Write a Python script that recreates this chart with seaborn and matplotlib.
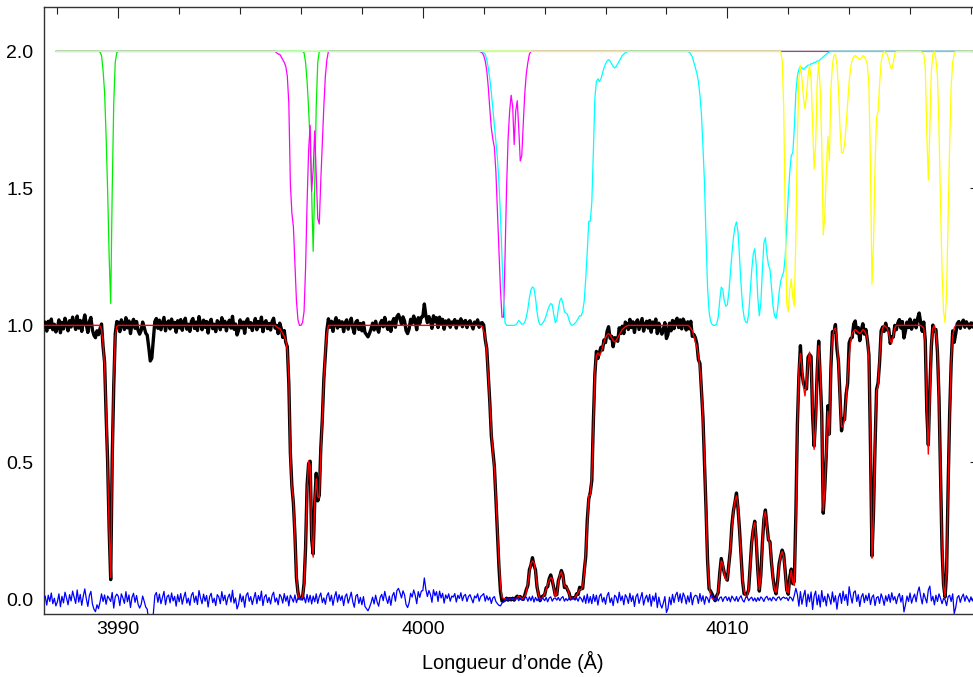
import numpy as np
import matplotlib
matplotlib.use("Agg")
import matplotlib.pyplot as plt
import seaborn as sns
from matplotlib.ticker import MultipleLocator

# ---------------- data ----------------
wave_start = 3987.55      # Angstrom, first sample
wave_step = 0.05          # Angstrom
comp_start = 3987.94      # component curves start here

# residuals (observed - model), in hundredths of flux
resid_hundredths = [
    0.6, 1.2, -2.1, 1.5, -0.8, 2.3, -1.6, 0.4, -2.4,
    -0.9, 2.0, -2.7, 1.1, -1.3, 2.6, 0.5, -2.0, 1.7, -0.6, 3.0, 0.8, -1.5, 3.4, -1.0, 1.8, -2.2, 1.2, 3.8, 0.2,
    -2.6, 1.4, 2.9, -1.7, -3.6, -4.5, -2.0, -3.4, -1.0, 2.0, -0.8, 1.6, -1.8, 1.2, 0.3, -0.8, 2.5, -3.2, 0.9, 1.9,
    1.1, -2.3, 2.0, 0.5, -1.5, 2.8, -0.9, 1.6, -3.0, 0.7, 2.2, -1.1, 1.4, -1.8, -3.2, -1.9, 1.2, -0.7, -2.8, -3.6,
    -8.0, -13.0, -12.0, -5.5, 1.4, 2.5, -1.1, 1.9, -1.6, 0.6, 2.9, -2.0, 0.9, 1.6, -1.3, 2.3, -0.6, 1.1, -2.5, 1.7,
    -0.9, 2.1, -1.8, 0.7, 2.6, -1.4, 0.4, -2.2, 1.5, 2.5, -1.1, 1.2, -1.9, 3.2, 0.5, -1.6, 1.9, -0.7, 1.4, -2.8,
    1.0, 2.2, -1.2, 0.4, -2.3, 1.7, 0.9, -1.6, 2.8, -0.5, 1.5, -2.0, 0.7, 1.9, -1.0, 3.3, -1.4, 0.5, -3.5, -1.8,
    2.0, -0.9, 1.2, -2.9, 1.5, 2.4, -0.7, 1.0, -1.9, 0.4, 2.5, -1.6, 1.4, -0.5, 3.0, -2.3, 0.9, 1.7, -1.2, 0.7,
    -1.7, 1.4, 2.6, -1.0, 0.5, -2.0, 1.8, 0.9, -1.4, 2.1, -0.7, 1.2, -2.4, 1.5, 0.4, -1.0, 1.6, -1.2, 0.5, 0.3,
    0.2, -0.3, 0.8, -1.3, 1.8, -1.0, 1.5, -1.7, 1.2, -0.9, 2.0, -1.5, 1.0, 2.3, -1.2, 0.5, -1.8, 1.3, 2.4, -0.7,
    1.5, -2.2, 0.9, 2.8, -1.0, 1.7, -0.4, 1.3, -2.3, 1.0, 2.0, -1.4, 0.5, 2.6, -0.9, -2.9, 1.2, 1.8, -1.5, 0.7,
    -2.0, 1.0, -2.6, -3.4, -4.2, -2.9, -1.3, 0.8, -1.7, 1.5, -1.0, -2.5, 0.7, 1.8, -0.5, 2.9, 0.3, -1.5, 1.2, -2.2,
    1.3, 2.5, -0.7, 3.2, 4.0, 2.4, 0.5, 3.1, 1.6, -1.9, -3.0, -1.3, 2.2, 0.8, 3.4, 1.5, -1.6, 2.8, 0.7, 3.0,
    3.2, 7.8, 3.6, 1.0, 3.2, 1.8, -1.1, 3.5, 1.3, 2.8, -0.8, 3.0, 0.5, 2.2, -1.4, 1.6, 0.3, 2.0, -0.7, 1.2,
    0.8, 2.1, -1.0, 1.5, 0.3, 2.4, -0.5, 1.3, 1.8, -0.8, 1.0, 1.7, 0.2, -1.3, 1.2, 0.5, 2.0, -0.7, 1.0, 1.5,
    2.1, -0.7, 1.3, -0.3, 0.8, -1.5, 0.5, 1.0, -0.8, -1.6, -2.2, -2.4, -1.4, -0.9, -0.5, 0.4, -0.3, 0.3, -0.2, 0.4,
    -0.3, 0.4, 0.5, -0.5, 0.3, -0.1, -0.4, 0.6, 0.8, -0.7, 0.9, -0.5, 1.2, -1.0, 0.7, -0.5, 0.3, -0.7, 0.5, 0.3,
    -0.5, 0.7, -0.9, 0.5, 0.9, -0.7, 0.3, 0.5, -0.3, 0.7, -0.5, 0.5, 1.0, -0.7, 0.3, -0.5, 0.4, -0.3, 0.5, 0.3,
    -0.3, 0.5, -0.7, 0.9, 0.3, -1.0, 1.3, -1.5, 1.9, -1.3, 1.0, -1.6, 1.8, -0.8, 1.5, -2.1, 1.2, 2.0, -1.0, 0.7,
    -1.8, 1.3, 2.5, -1.2, 0.5, -2.3, 1.5, 0.8, -1.3, 2.6, -0.5, 1.2, -2.0, 1.7, 0.7, -1.5, 2.2, -0.8, 1.3, -2.6,
    1.0, 2.0, -1.5, 0.5, 2.5, -2.1, 0.3, 1.5, -1.0, 1.8, -2.5, 1.2, -0.7, 2.3, -3.0, 0.8, -1.8, -3.2, -1.3, 1.0,
    -4.8, -3.4, 0.8, -2.0, 1.8, -1.2, 1.5, 2.6, -0.8, 2.0, -1.3, 2.3, 1.0, -1.7, 1.3, -1.0, 2.5, -2.0, 0.7, 1.5,
    1.2, -1.5, 2.1, -0.7, 1.3, -1.8, 1.0, 0.4, -1.2, 1.5, 1.6, 0.6, -0.5, 0.8, -0.6, 0.5, 0.9, -0.8, 0.6, 1.0,
    -0.5, 0.8, -0.9, 1.2, 0.3, -0.6, 1.0, -0.8, 0.5, 1.3, -0.3, -1.0, 0.6, 0.9, -0.5, 0.3, 0.8, -0.6, 0.5, -0.8,
    0.6, -0.5, 0.9, 0.3, -0.8, 0.6, 1.1, -0.3, 0.5, -0.6, 0.8, 0.3, -0.5, 0.6, 0.9, -0.3, 0.5, 0.8, 0.3, 0.6,
    -0.5, 0.9, 0.5, -0.6, 1.5, 4.0, 1.8, -2.5, 2.8, -1.8, 1.2, 3.3, -2.6, 1.9, -0.9, 2.7, -3.7, 1.2, 3.0, -2.0,
    1.6, -2.8, 3.2, -0.9, 1.1, -2.4, 2.0, 0.5, -1.8, 2.7, -1.0, 1.3, -3.6, 0.7, 2.2, -1.5, 3.0, -0.4, 1.8, -2.2,
    4.6, 1.2, -1.4, 2.5, 3.1, -0.8, 1.7, -2.6, 0.9, 2.1, -1.2, 1.5, -0.5, 2.2, -1.9, 0.8, 1.6, -2.3, 0.6, 1.0,
    -1.5, 2.0, 0.4, -2.2, 1.3, -0.7, 1.8, -1.1, 2.4, -0.3, 1.0, -1.6, 0.9, 2.1, -1.0, 1.4, -4.6, -2.0, 1.2, -0.8,
    2.3, -1.4, 0.6, 1.9, -0.9, 2.6, 4.5, 1.0, -1.7, 2.2, 0.5, -1.3, 3.4, 4.8, -0.6, 1.1, -2.0, 1.5, -0.8, 2.0,
    0.4, -1.6, 0.3, -0.2, -2.3, 0.9, 1.5, -0.8, 2.0, -5.2, -3.0, 0.6, 1.4, -1.1, 0.8, 1.9, -0.7, 1.3, 0.2, -1.0,
    0.9, -0.6, 1.1, 0.3, -1.2, 0.5, 0.8,
]

# component transmissions (continuum = 1 outside the listed stretches)
green_a_start = 3989.40
green_a = [0.998, 0.985, 0.93, 0.85, 0.69, 0.49, 0.25, 0.08, 0.49, 0.81, 0.96, 0.995, 1.0]
green_b_start = 3996.05
green_b = [1.0, 0.995, 0.96, 0.89, 0.79, 0.67, 0.48, 0.27, 0.51, 0.80, 0.96, 1.0]

magenta_a_start = 3995.15
magenta_a = [1.0, 0.995, 0.99, 0.99, 0.98, 0.97, 0.96, 0.945, 0.91, 0.81, 0.52, 0.41,
             0.36, 0.22, 0.09, 0.02, 0.0, 0.0, 0.01, 0.05, 0.21, 0.45, 0.64, 0.73,
             0.49, 0.57, 0.71, 0.55, 0.39, 0.37, 0.53, 0.67, 0.80, 0.91, 0.97, 1.0]
magenta_b_start = 4001.85
magenta_b = [1.0, 0.998, 0.995, 0.985, 0.965, 0.93, 0.87, 0.79, 0.72, 0.68, 0.65, 0.56,
             0.42, 0.27, 0.13, 0.03, 0.03, 0.25, 0.50, 0.68, 0.78, 0.84, 0.80, 0.66,
             0.78, 0.82, 0.72, 0.60, 0.62, 0.74, 0.85, 0.92, 0.96, 0.99, 1.0]

cyan_a_start = 4002.00
cyan_a = [0.995, 0.99, 0.97, 0.94, 0.90, 0.85, 0.79, 0.73, 0.67, 0.61, 0.52, 0.40,
          0.25, 0.10, 0.01, 0.0, 0.0, 0.0, 0.0, 0.0, 0.0, 0.002, 0.008, 0.018,
          0.012, 0.004, 0.005, 0.012, 0.03, 0.06, 0.10, 0.13, 0.14, 0.135, 0.10, 0.05,
          0.015, 0.002, 0.003, 0.01, 0.02, 0.035, 0.055, 0.07, 0.08, 0.075, 0.04, 0.01,
          0.02, 0.06, 0.09, 0.10, 0.08, 0.05, 0.045, 0.04, 0.02, 0.005, 0.0, 0.003,
          0.008, 0.015, 0.025, 0.035, 0.035, 0.05, 0.09, 0.17, 0.27, 0.38, 0.38, 0.45,
          0.63, 0.83, 0.89, 0.90, 0.89, 0.90, 0.92, 0.94, 0.955, 0.965, 0.97, 0.965,
          0.955, 0.945, 0.94, 0.945, 0.955, 0.965, 0.975, 0.985, 0.99, 0.995, 0.998, 1.0]
cyan_b_start = 4008.70
cyan_b = [1.0, 0.997, 0.99, 0.98, 0.96, 0.94, 0.92, 0.89, 0.84, 0.77, 0.65, 0.52,
          0.32, 0.14, 0.05, 0.015, 0.003, 0.0, 0.0, 0.005, 0.03, 0.09, 0.14, 0.13,
          0.09, 0.07, 0.075, 0.12, 0.19, 0.26, 0.32, 0.36, 0.378, 0.34, 0.25, 0.15,
          0.07, 0.03, 0.012, 0.01, 0.04, 0.12, 0.20, 0.26, 0.28, 0.22, 0.10, 0.035,
          0.08, 0.20, 0.30, 0.32, 0.26, 0.22, 0.205, 0.14, 0.07, 0.035, 0.025, 0.06,
          0.12, 0.16, 0.18, 0.195, 0.25, 0.36, 0.47, 0.56, 0.62, 0.63, 0.72, 0.85,
          0.91, 0.935, 0.945, 0.94, 0.935, 0.94, 0.945, 0.95, 0.95, 0.955, 0.955, 0.96,
          0.96, 0.965, 0.965, 0.97, 0.975, 0.98, 0.985, 0.99, 0.995, 0.998, 1.0]

yellow_a_start = 4011.75
yellow_a = [1.0, 0.97, 0.80, 0.40, 0.08, 0.05, 0.13, 0.17, 0.10, 0.07, 0.32, 0.68,
            0.90, 0.95, 0.90, 0.83, 0.79, 0.84, 0.91, 0.95, 0.90, 0.74, 0.57, 0.66,
            0.88, 0.96, 0.86, 0.66, 0.33, 0.40, 0.56, 0.69, 0.60, 0.86, 0.95, 0.985,
            0.99, 0.95, 0.86, 0.72, 0.63, 0.63, 0.66, 0.73, 0.81, 0.89, 0.94, 0.97,
            0.98, 0.985, 0.98, 0.975, 0.97, 0.975, 0.985, 0.98, 0.97, 0.95, 0.87, 0.58,
            0.15, 0.30, 0.58, 0.76, 0.78, 0.88, 0.96, 0.99, 1.0, 0.995, 0.99, 0.97,
            0.945, 0.935, 0.96, 0.99, 1.0]
yellow_b_start = 4016.35
yellow_b = [1.0, 0.995, 0.99, 0.94, 0.70, 0.53, 0.72, 0.93, 0.99, 1.0, 0.97, 0.91,
            0.72, 0.45, 0.20, 0.05, 0.01, 0.12, 0.40, 0.66, 0.87, 0.96, 0.99, 1.0]

# ---------------- assemble ----------------
resid = np.array(resid_hundredths) / 100.0
wave = wave_start + wave_step * np.arange(len(resid))


def transmission(segments):
    t = np.ones_like(wave)
    for start, vals in segments:
        i = int(round((start - wave_start) / wave_step))
        t[i:i + len(vals)] = vals
    return t


green = transmission([(green_a_start, green_a), (green_b_start, green_b)])
magenta = transmission([(magenta_a_start, magenta_a), (magenta_b_start, magenta_b)])
cyan = transmission([(cyan_a_start, cyan_a), (cyan_b_start, cyan_b)])
yellow = transmission([(yellow_a_start, yellow_a), (yellow_b_start, yellow_b)])

model = green * magenta * cyan * yellow
flux = model + resid

# ---------------- plot ----------------
sns.set_style("white")
plt.rcParams['font.family'] = ['Liberation Sans', 'DejaVu Sans']
plt.rcParams['text.color'] = 'black'
plt.rcParams['axes.labelcolor'] = 'black'
plt.rcParams['xtick.labelcolor'] = 'black'
plt.rcParams['ytick.labelcolor'] = 'black'

W, H = 973, 677
fig = plt.figure(figsize=(W / 100, H / 100), dpi=100)
left_px, right_px, top_px, bottom_px = 44.3, 981.0, 7.3, 614.0
ax = fig.add_axes([left_px / W, 1 - bottom_px / H,
                   (right_px - left_px) / W, (bottom_px - top_px) / H])

m = wave >= comp_start
for comp, col in [(green, '#00ee00'), (magenta, '#ff00ff'),
                  (cyan, '#00ffff'), (yellow, '#ffff00')]:
    sns.lineplot(x=wave[m], y=1.0 + comp[m], ax=ax, color=col, lw=0.9,
                 estimator=None, sort=False, zorder=2)

sns.lineplot(x=wave, y=flux, ax=ax, color='black', lw=2.4,
             estimator=None, sort=False, zorder=3)
sns.lineplot(x=wave, y=model, ax=ax, color='#ff0000', lw=1.0,
             estimator=None, sort=False, zorder=4)
sns.lineplot(x=wave, y=resid, ax=ax, color='#0000ff', lw=0.9,
             estimator=None, sort=False, zorder=5)

ax.set_xlim(3987.57, 4018.33)
ax.set_ylim(-0.0536, 2.161)

ax.xaxis.set_major_locator(MultipleLocator(10))
ax.xaxis.set_minor_locator(MultipleLocator(2))
ax.yaxis.set_major_locator(MultipleLocator(0.5))
ax.yaxis.set_minor_locator(MultipleLocator(0.1))

ax.tick_params(which='both', direction='in', top=True, right=True,
               color='#222222', width=0.8, labelsize=14, labelcolor='black')
ax.tick_params(which='major', length=7.6)
ax.tick_params(which='minor', length=5.3)
ax.tick_params(axis='x', which='major', pad=5.0)
ax.tick_params(axis='y', which='major', pad=8.0)

for s in ax.spines.values():
    s.set_color('#333333')
    s.set_linewidth(1.0)

ax.set_xlabel('Longueur d\u2019onde (\u00c5)', fontsize=14.3, labelpad=9,
              color='black')
ax.set_ylabel('')

fig.savefig('out.png', dpi=100)
